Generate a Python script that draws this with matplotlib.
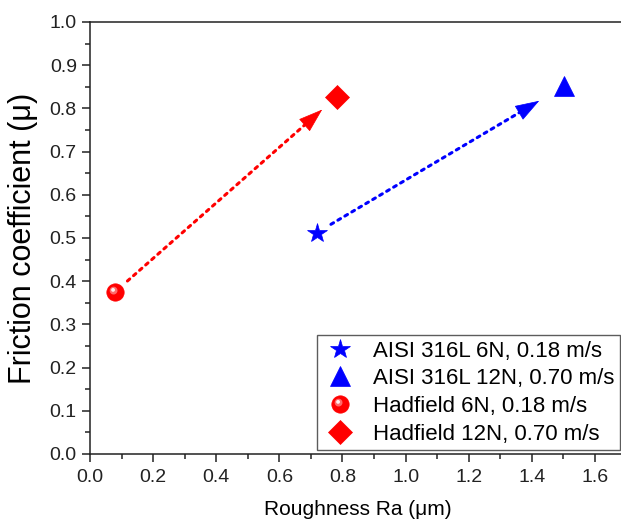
import numpy as np
import matplotlib
matplotlib.use("Agg")
import matplotlib.pyplot as plt
from matplotlib.path import Path
from matplotlib.legend_handler import HandlerTuple
from matplotlib.ticker import MultipleLocator

plt.rcParams['font.family'] = ['Liberation Sans', 'DejaVu Sans']

# data
labels = ["AISI 316L 6N, 0.18 m/s", "AISI 316L 12N, 0.70 m/s",
          "Hadfield 6N, 0.18 m/s", "Hadfield 12N, 0.70 m/s"]
ra = [0.718, 1.503, 0.079, 0.782]
mu = [0.512, 0.852, 0.375, 0.827]
markers = ['*', '^', 'o', 'D']
colors = ['#0000ff', '#0000ff', '#ff0000', '#ff0000']
msizes = [15, 14, 12.5, 12]
# arrows: (from index, to index)
arrows = [(0, 1), (2, 3)]


def spot(cx, cy, r):
    # small disc inside the unit marker box (extra movetos keep the scale)
    t = np.linspace(0, 2 * np.pi, 40)
    verts = [(-1, -1), (1, 1)] + list(zip(cx + r * np.cos(t), cy + r * np.sin(t)))
    codes = [Path.MOVETO, Path.MOVETO, Path.MOVETO] + [Path.LINETO] * 38 + [Path.CLOSEPOLY]
    return Path(verts, codes)


glow = spot(-0.22, 0.22, 0.45)
shine = spot(-0.28, 0.3, 0.22)

fig = plt.figure(figsize=(6.21, 5.24), dpi=100)
ax = fig.add_axes([90 / 621, 70 / 524, 536.5 / 621, 432 / 524])
ax.set_xlim(0, 1.7)
ax.set_ylim(0, 1.0)

px = fig.dpi / 72.0
for (a, b) in arrows:
    sB = 14 if a == 2 else 21
    # dotted shaft
    ax.annotate("", xy=(ra[b], mu[b]), xytext=(ra[a], mu[a]),
                arrowprops=dict(arrowstyle='-', color=colors[a], lw=2.2, linestyle=':',
                                shrinkA=12, shrinkB=sB + 10))
    # solid head, placed through the axes transform
    pa = ax.transData.transform((ra[a], mu[a]))
    pb = ax.transData.transform((ra[b], mu[b]))
    u = (pb - pa) / np.hypot(*(pb - pa))
    tip = pb - u * sB * px
    base = tip - u * 16 * px
    inv = ax.transData.inverted()
    ax.annotate("", xy=inv.transform(tip), xytext=inv.transform(base),
                arrowprops=dict(arrowstyle='-|>,head_length=0.8,head_width=0.27',
                                color=colors[a], lw=0.5, shrinkA=0, shrinkB=0,
                                mutation_scale=20))

handles = []
for i in range(len(ra)):
    h, = ax.plot(ra[i], mu[i], ls='none', marker=markers[i], ms=msizes[i],
                 color=colors[i], mec=colors[i], mew=0.5)
    if markers[i] == 'o':
        h2, = ax.plot(ra[i], mu[i], ls='none', marker=glow, ms=msizes[i],
                      color='#ff6a6a', mew=0)
        h3, = ax.plot(ra[i], mu[i], ls='none', marker=shine, ms=msizes[i],
                      color='#ffffff', mew=0, alpha=0.9)
        handles.append((h, h2, h3))
    else:
        handles.append(h)

ax.xaxis.set_major_locator(MultipleLocator(0.2))
ax.xaxis.set_minor_locator(MultipleLocator(0.1))
ax.yaxis.set_major_locator(MultipleLocator(0.1))
ax.yaxis.set_minor_locator(MultipleLocator(0.05))
ax.xaxis.set_major_formatter(plt.FormatStrFormatter('%.1f'))
ax.yaxis.set_major_formatter(plt.FormatStrFormatter('%.1f'))
ax.tick_params(which='both', direction='out', width=1.1, labelsize=14, colors='#222222')
ax.tick_params(which='major', length=6)
ax.tick_params(which='minor', length=3.3)
ax.tick_params(axis='x', pad=5)
for s in ax.spines.values():
    s.set_linewidth(1.1)
    s.set_color('#222222')

ax.set_xlabel("Roughness Ra (μm)", fontsize=15, labelpad=10)
ax.set_ylabel("Friction coefficient (μ)", fontsize=22, labelpad=8)

leg = ax.legend(handles, labels, loc='lower left', bbox_to_anchor=(0.4225, 0.009),
                borderaxespad=0, fontsize=16, frameon=True, fancybox=False,
                edgecolor='#333333', labelspacing=0.3, handletextpad=0.7,
                handlelength=1.6, borderpad=0.25,
                handler_map={tuple: HandlerTuple(ndivide=1)})
leg.get_frame().set_linewidth(1.0)

fig.savefig("out.png", dpi=100)
